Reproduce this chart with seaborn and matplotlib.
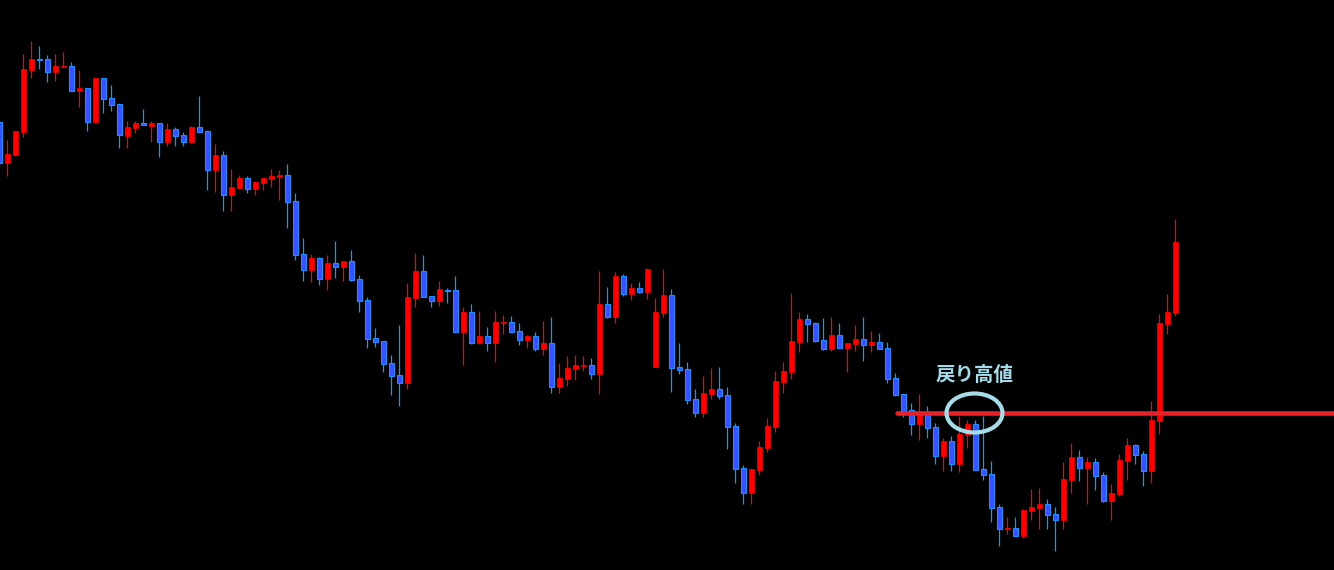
"""Candlestick chart with a pullback-high (戻り高値) level"""
import matplotlib

matplotlib.use("Agg")
import numpy as np
import pandas as pd
import seaborn as sns
from matplotlib import pyplot as plt
from matplotlib.patches import Ellipse

# OHLC, one entry per candle (first one is cut by the left edge)
opens = [
    114.48, 114.07, 114.15, 114.38, 115.00, 115.11, 115.11, 114.98, 115.03, 115.04,
    114.79, 114.82, 114.48, 114.92, 114.72, 114.66, 114.34, 114.42, 114.47, 114.44,
    114.47, 114.28, 114.41, 114.35, 114.28, 114.43, 114.39, 114.00, 114.15, 113.75,
    113.82, 113.92, 113.81, 113.87, 113.91, 113.93, 113.95, 113.69, 113.16, 113.00,
    113.12, 112.91, 113.07, 113.03, 113.09, 112.91, 112.70, 112.32, 112.29, 112.07,
    111.95, 111.87, 112.72, 112.99, 112.74, 112.69, 112.80, 112.80, 112.38, 112.58,
    112.27, 112.34, 112.27, 112.47, 112.48, 112.39, 112.30, 112.34, 112.21, 112.27,
    111.83, 111.91, 112.01, 112.04, 112.05, 111.96, 112.66, 112.53, 112.94, 112.76,
    112.82, 112.78, 112.03, 112.57, 112.75, 112.03, 112.01, 111.71, 111.57, 111.76,
    111.81, 111.75, 111.44, 111.02, 110.77, 111.00, 111.22, 111.43, 111.88, 111.98,
    112.28, 112.51, 112.47, 112.30, 112.21, 112.35, 112.22, 112.26, 112.31, 112.25,
    112.28, 112.22, 111.92, 111.76, 111.60, 111.46, 111.58, 111.43, 111.14, 111.29,
    111.06, 111.35, 111.46, 111.01, 110.96, 110.63, 110.41, 110.42, 110.34, 110.59,
    110.62, 110.66, 110.56, 110.50, 110.90, 111.13, 111.02, 111.08, 110.95, 110.69,
    110.76, 111.09, 111.25, 111.16, 110.99, 111.49, 112.46, 112.57,
]
highs = [
    114.50, 114.30, 114.39, 115.16, 115.29, 115.24, 115.15, 115.16, 115.18, 115.08,
    115.00, 114.82, 114.92, 114.92, 114.85, 114.66, 114.49, 114.49, 114.61, 114.49,
    114.47, 114.47, 114.43, 114.38, 114.44, 114.74, 114.40, 114.26, 114.19, 114.01,
    113.95, 113.94, 113.89, 113.92, 114.01, 114.00, 114.06, 113.77, 113.32, 113.16,
    113.13, 113.15, 113.29, 113.09, 113.20, 112.95, 112.73, 112.42, 112.29, 112.15,
    112.45, 112.87, 113.17, 113.15, 112.74, 112.89, 112.82, 112.94, 112.63, 112.66,
    112.59, 112.43, 112.59, 112.55, 112.54, 112.47, 112.35, 112.38, 112.49, 112.53,
    112.07, 112.14, 112.15, 112.14, 112.12, 112.99, 112.83, 112.98, 112.96, 112.87,
    112.88, 113.02, 112.72, 113.01, 112.81, 112.27, 112.08, 111.81, 111.94, 112.02,
    112.03, 111.83, 111.47, 111.05, 111.01, 111.29, 111.52, 111.99, 112.08, 112.77,
    112.58, 112.56, 112.48, 112.52, 112.53, 112.47, 112.27, 112.45, 112.53, 112.39,
    112.37, 112.28, 111.97, 111.76, 111.67, 111.76, 111.64, 111.47, 111.32, 111.34,
    111.54, 111.50, 111.50, 111.54, 111.09, 110.66, 110.53, 110.53, 110.61, 110.81,
    110.82, 110.71, 110.63, 111.08, 111.27, 111.20, 111.13, 111.12, 110.98, 110.86,
    111.16, 111.32, 111.26, 111.19, 111.69, 112.56, 112.76, 113.51,
]
lows = [
    114.05, 113.94, 114.14, 114.33, 114.92, 115.01, 114.88, 114.89, 115.03, 114.79,
    114.63, 114.39, 114.48, 114.57, 114.59, 114.22, 114.22, 114.37, 114.45, 114.28,
    114.13, 114.24, 114.24, 114.24, 114.27, 114.38, 113.80, 113.78, 113.59, 113.59,
    113.82, 113.77, 113.75, 113.80, 113.83, 113.70, 113.42, 113.10, 112.89, 112.88,
    112.85, 112.80, 112.92, 112.89, 112.89, 112.58, 112.22, 112.23, 111.98, 111.75,
    111.64, 111.81, 112.63, 112.73, 112.63, 112.64, 112.67, 112.38, 112.05, 112.26,
    112.26, 112.19, 112.08, 112.36, 112.38, 112.25, 112.22, 112.19, 112.15, 111.77,
    111.77, 111.84, 111.90, 111.99, 111.91, 111.76, 112.52, 112.47, 112.74, 112.70,
    112.77, 112.71, 112.03, 112.53, 111.78, 111.96, 111.66, 111.53, 111.53, 111.71,
    111.71, 111.21, 110.87, 110.66, 110.66, 110.95, 111.18, 111.38, 111.77, 111.91,
    112.18, 112.28, 112.28, 112.20, 112.19, 112.22, 111.98, 112.19, 112.09, 112.18,
    112.21, 111.87, 111.74, 111.53, 111.35, 111.30, 111.32, 111.06, 110.99, 110.99,
    110.98, 111.22, 111.00, 110.90, 110.48, 110.24, 110.36, 110.34, 110.32, 110.50,
    110.41, 110.41, 110.19, 110.41, 110.77, 110.89, 110.66, 110.80, 110.68, 110.50,
    110.74, 110.90, 111.06, 110.84, 110.87, 111.36, 112.36, 112.54,
]
closes = [
    114.07, 114.16, 114.39, 115.01, 115.11, 115.10, 114.98, 115.04, 115.04, 114.79,
    114.82, 114.48, 114.92, 114.71, 114.65, 114.35, 114.43, 114.47, 114.45, 114.47,
    114.28, 114.41, 114.34, 114.28, 114.43, 114.38, 114.00, 114.15, 113.75, 113.83,
    113.92, 113.81, 113.88, 113.92, 113.94, 113.95, 113.68, 113.15, 113.00, 113.12,
    112.91, 113.07, 113.03, 113.09, 112.90, 112.69, 112.31, 112.28, 112.06, 111.94,
    111.87, 112.73, 112.99, 112.73, 112.69, 112.81, 112.79, 112.38, 112.58, 112.27,
    112.34, 112.27, 112.48, 112.48, 112.38, 112.30, 112.34, 112.21, 112.27, 111.83,
    111.92, 112.02, 112.05, 112.05, 111.96, 112.66, 112.53, 112.94, 112.76, 112.82,
    112.78, 113.01, 112.58, 112.75, 112.02, 112.00, 111.70, 111.57, 111.77, 111.81,
    111.74, 111.43, 111.01, 110.77, 111.01, 111.23, 111.44, 111.89, 111.99, 112.29,
    112.51, 112.46, 112.29, 112.21, 112.35, 112.22, 112.27, 112.31, 112.25, 112.28,
    112.21, 111.91, 111.75, 111.59, 111.46, 111.57, 111.42, 111.14, 111.29, 111.06,
    111.36, 111.46, 111.00, 110.95, 110.62, 110.41, 110.42, 110.34, 110.60, 110.63,
    110.66, 110.55, 110.50, 110.91, 111.13, 111.02, 111.08, 110.94, 110.69, 110.77,
    111.10, 111.25, 111.15, 110.99, 111.50, 112.47, 112.58, 113.28,
]

level_price = 111.57  # pullback high
level_start = 111.2   # candle index where the level line begins
label_text = "戻り高値"
label_candle = 120.9

UP_COLOR = "#ff0000"
DOWN_FILL = "#3c50ff"
DOWN_EDGE = "#1e90ff"
LEVEL_COLOR = "#e8202a"
NOTE_COLOR = "#a6dbe8"

df = pd.DataFrame({"open": opens, "high": highs, "low": lows, "close": closes})
df["idx"] = np.arange(len(df)) - 1
df["up"] = df["close"] >= df["open"]

sns.set_theme(style="dark", rc={"axes.facecolor": "black", "figure.facecolor": "black"})
plt.rcParams["font.family"] = ["Noto Sans CJK JP", "DejaVu Sans"]

fig = plt.figure(figsize=(13.34, 5.70), dpi=100)
ax = fig.add_axes([0, 0, 1, 1])
ax.set_facecolor("black")

up = df[df["up"]]
down = df[~df["up"]]

# wicks
ax.vlines(up["idx"], up["low"], up["high"], color=UP_COLOR, lw=0.9, zorder=2)
ax.vlines(down["idx"], down["low"], down["high"], color=DOWN_EDGE, lw=0.9, zorder=2)

# bodies
width = 0.6
ax.bar(
    up["idx"], np.maximum(up["close"] - up["open"], 0.006), bottom=up["open"],
    width=width, color=UP_COLOR, edgecolor=UP_COLOR, linewidth=0.5, zorder=3,
)
ax.bar(
    down["idx"], np.maximum(down["open"] - down["close"], 0.006), bottom=down["close"],
    width=width, color=DOWN_FILL, edgecolor=DOWN_EDGE, linewidth=0.8, zorder=3,
)

xmin, xmax = -0.9125, 165.84
level = pd.DataFrame({"x": [level_start, xmax], "y": [level_price, level_price]})
sns.lineplot(data=level, x="x", y="y", ax=ax, color=LEVEL_COLOR, lw=3.3, zorder=4)

ax.add_patch(Ellipse((label_candle, level_price), 7.0, 0.39, fill=False,
                     edgecolor=NOTE_COLOR, lw=3.0, zorder=5))
ax.text(label_candle, 111.95, label_text, color=NOTE_COLOR, fontsize=14,
        fontweight="bold", ha="center", va="center", zorder=6)

ax.set_xlim(xmin, xmax)
ax.set_ylim(110.00, 115.70)
ax.axis("off")

fig.savefig("out.png", dpi=100, facecolor="black")
